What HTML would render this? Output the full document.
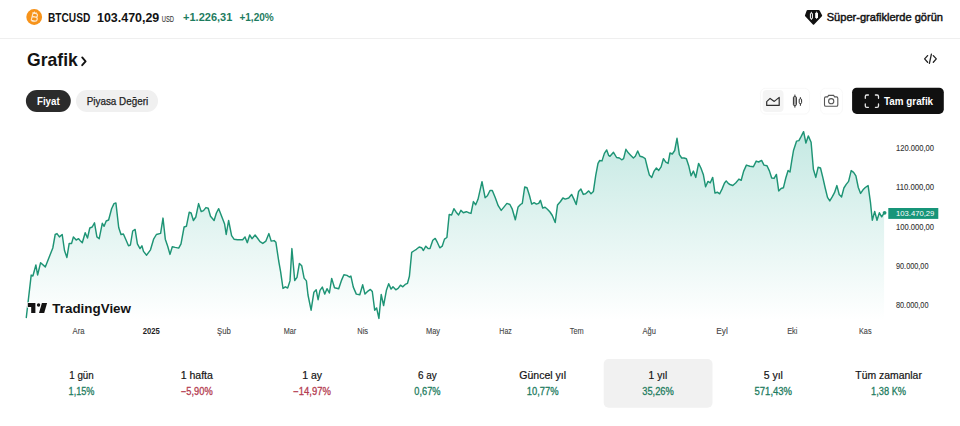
<!DOCTYPE html><html><head><meta charset="utf-8"><style>
*{margin:0;padding:0;box-sizing:border-box}
html,body{width:960px;height:426px;overflow:hidden;background:#fff}
body{position:relative;font-family:"Liberation Sans",sans-serif;}
.t{position:absolute;line-height:1;white-space:nowrap;transform-origin:0 0}
.abs{position:absolute}
</style></head><body><svg class="abs" style="left:0;top:0" width="960" height="426" viewBox="0 0 960 426">
<defs>
<linearGradient id="g" x1="0" y1="128" x2="0" y2="320" gradientUnits="userSpaceOnUse">
<stop offset="0" stop-color="#22ab94" stop-opacity="0.27"/>
<stop offset="1" stop-color="#22ab94" stop-opacity="0.0"/>
</linearGradient>
</defs>
<path d="M26.3,317.5 L31.2,275.1 L32.9,276.0 L35.9,265.0 L37.6,275.0 L40.6,262.7 L45.3,266.9 L52.8,248.0 L55.2,234.5 L57.0,233.6 L59.4,236.9 L62.2,234.5 L64.5,250.5 L66.9,257.5 L69.2,243.4 L71.6,243.4 L73.4,236.9 L76.2,240.0 L78.6,238.7 L80.0,240.4 L82.3,242.7 L85.2,232.7 L87.5,238.0 L89.8,228.0 L92.2,227.0 L94.5,222.8 L96.9,236.9 L99.2,238.7 L102.3,223.3 L104.1,226.3 L106.2,221.0 L108.6,220.0 L111.6,208.7 L114.0,203.6 L115.9,202.9 L118.7,227.5 L121.0,234.5 L123.4,234.0 L125.7,239.2 L128.5,245.8 L130.4,245.0 L132.7,231.0 L135.1,229.4 L137.4,243.9 L140.0,248.6 L141.9,245.8 L143.5,251.4 L146.6,255.2 L150.5,249.8 L153.6,239.2 L156.4,234.5 L160.6,233.4 L163.0,218.1 L165.3,239.2 L167.7,246.2 L170.0,254.4 L172.3,246.7 L175.2,247.4 L178.7,248.1 L181.0,243.9 L184.1,227.0 L186.4,226.3 L189.2,212.3 L191.1,213.0 L193.4,220.5 L195.8,217.0 L198.6,203.6 L201.2,211.6 L203.5,210.6 L205.9,207.6 L208.2,208.3 L210.5,216.2 L214.1,220.5 L216.4,213.0 L218.7,208.7 L222.3,218.1 L224.6,224.0 L226.2,234.5 L228.6,220.5 L231.6,235.7 L234.0,239.2 L237.5,239.7 L242.7,239.7 L245.0,236.9 L247.3,242.7 L249.7,235.0 L252.0,238.7 L255.1,235.0 L257.4,238.0 L260.0,241.6 L262.8,243.4 L265.9,241.1 L268.9,233.6 L271.2,241.1 L274.1,240.6 L275.9,242.3 L278.7,261.0 L280.6,271.6 L283.0,288.4 L285.3,286.8 L287.7,288.0 L290.0,280.9 L291.9,248.6 L294.7,280.5 L297.0,277.4 L299.4,263.4 L301.7,265.7 L304.1,278.1 L306.4,280.9 L308.0,295.0 L311.1,310.2 L313.9,292.2 L316.2,289.8 L318.1,299.7 L320.0,290.3 L322.3,287.1 L324.7,294.1 L327.0,288.7 L329.4,293.0 L331.7,278.4 L334.5,287.8 L338.7,288.7 L341.6,280.1 L343.9,274.7 L347.0,275.4 L349.3,277.0 L350.9,276.1 L353.3,287.1 L356.3,294.1 L359.8,294.8 L362.7,284.8 L365.0,294.1 L368.0,291.1 L370.4,289.4 L372.3,291.5 L374.7,310.2 L376.6,307.9 L378.9,318.4 L381.2,294.5 L383.6,305.5 L386.4,290.3 L388.7,283.7 L391.1,289.1 L393.0,286.8 L395.8,289.8 L398.1,288.4 L400.5,285.2 L402.8,286.8 L405.2,284.4 L407.5,283.3 L409.4,276.2 L411.7,252.3 L414.5,250.5 L416.4,249.3 L419.2,247.0 L421.6,247.7 L423.4,250.5 L425.8,246.2 L428.1,248.6 L430.0,248.5 L432.8,240.3 L435.2,238.4 L437.5,242.7 L439.8,247.8 L442.2,246.2 L444.5,239.1 L446.9,237.5 L449.2,214.5 L451.6,215.0 L453.9,208.7 L456.2,212.2 L458.6,215.0 L460.9,210.3 L463.3,212.7 L466.3,211.7 L468.7,212.7 L471.0,213.4 L473.4,201.6 L475.7,204.7 L478.0,199.3 L482.0,181.7 L485.1,197.7 L487.4,195.8 L490.0,190.5 L492.3,190.5 L495.2,197.5 L498.2,205.7 L501.2,210.4 L504.1,206.9 L506.9,203.4 L509.9,204.5 L512.3,209.2 L515.3,219.8 L518.1,206.9 L520.5,204.5 L522.3,203.4 L524.7,187.0 L527.0,187.7 L529.4,195.2 L531.7,204.1 L534.1,202.7 L536.4,204.1 L538.7,203.4 L540.4,200.3 L542.7,208.0 L545.1,207.3 L547.4,209.2 L550.0,212.0 L552.3,215.5 L555.2,222.6 L557.5,205.0 L560.5,201.5 L562.9,198.0 L565.2,199.1 L568.7,198.0 L571.6,194.4 L573.9,199.1 L576.2,204.5 L578.6,191.4 L580.9,189.1 L583.3,194.4 L585.6,193.7 L588.7,190.9 L591.0,193.7 L593.4,191.4 L595.7,175.7 L598.0,163.3 L599.7,160.5 L602.0,160.9 L604.4,153.4 L606.7,149.9 L608.6,155.3 L610.0,156.3 L613.5,152.3 L616.6,157.5 L619.4,158.0 L621.7,159.8 L623.6,158.7 L625.9,149.3 L628.3,152.8 L630.6,155.2 L633.4,158.0 L635.3,156.3 L637.7,151.0 L640.0,156.3 L642.8,157.0 L645.2,158.7 L647.5,168.0 L649.4,175.1 L651.7,177.4 L654.1,171.1 L656.4,168.0 L658.7,170.4 L661.1,166.9 L663.4,158.7 L665.8,162.2 L668.1,163.4 L670.0,153.0 L672.3,154.0 L674.7,150.5 L677.0,138.3 L679.4,154.7 L681.7,158.0 L684.1,158.0 L686.4,158.7 L688.7,165.7 L691.1,175.8 L693.4,171.1 L695.8,177.4 L698.6,163.4 L700.9,168.0 L703.3,174.4 L705.6,186.8 L708.0,181.4 L710.3,182.8 L712.7,177.4 L715.0,193.1 L717.3,192.2 L719.7,193.8 L722.0,189.1 L724.4,183.3 L726.2,180.9 L728.6,183.7 L730.0,184.5 L732.8,185.5 L735.9,182.7 L738.9,179.1 L741.2,180.3 L743.6,171.4 L746.4,165.1 L749.9,166.2 L753.4,166.7 L756.2,161.1 L758.6,162.0 L761.6,160.4 L764.0,165.1 L767.0,165.8 L769.4,170.9 L771.7,178.0 L774.1,178.4 L776.4,174.4 L778.7,190.9 L781.1,188.5 L783.4,187.8 L785.8,178.0 L788.1,170.5 L790.0,172.0 L791.9,159.8 L793.5,150.5 L796.6,141.1 L798.9,140.6 L801.2,136.4 L803.6,131.7 L805.9,143.0 L808.3,135.9 L811.1,142.3 L813.4,169.2 L815.8,177.4 L818.1,167.3 L820.5,168.0 L822.8,177.4 L825.2,188.0 L827.5,197.3 L829.8,200.9 L832.2,196.9 L834.5,192.7 L836.9,185.6 L839.2,194.5 L841.6,196.9 L843.9,188.0 L846.2,184.4 L848.6,181.4 L851.2,170.6 L853.6,172.3 L855.9,175.8 L858.3,187.5 L860.6,193.4 L863.0,189.8 L865.3,187.5 L868.1,185.6 L870.5,202.7 L872.3,220.3 L874.7,211.4 L877.0,220.3 L879.4,212.8 L881.7,216.8 L884.1,212.8 L884.1,320 L26.3,320 Z" fill="url(#g)" stroke="none"/>
<path d="M26.3,317.5 L31.2,275.1 L32.9,276.0 L35.9,265.0 L37.6,275.0 L40.6,262.7 L45.3,266.9 L52.8,248.0 L55.2,234.5 L57.0,233.6 L59.4,236.9 L62.2,234.5 L64.5,250.5 L66.9,257.5 L69.2,243.4 L71.6,243.4 L73.4,236.9 L76.2,240.0 L78.6,238.7 L80.0,240.4 L82.3,242.7 L85.2,232.7 L87.5,238.0 L89.8,228.0 L92.2,227.0 L94.5,222.8 L96.9,236.9 L99.2,238.7 L102.3,223.3 L104.1,226.3 L106.2,221.0 L108.6,220.0 L111.6,208.7 L114.0,203.6 L115.9,202.9 L118.7,227.5 L121.0,234.5 L123.4,234.0 L125.7,239.2 L128.5,245.8 L130.4,245.0 L132.7,231.0 L135.1,229.4 L137.4,243.9 L140.0,248.6 L141.9,245.8 L143.5,251.4 L146.6,255.2 L150.5,249.8 L153.6,239.2 L156.4,234.5 L160.6,233.4 L163.0,218.1 L165.3,239.2 L167.7,246.2 L170.0,254.4 L172.3,246.7 L175.2,247.4 L178.7,248.1 L181.0,243.9 L184.1,227.0 L186.4,226.3 L189.2,212.3 L191.1,213.0 L193.4,220.5 L195.8,217.0 L198.6,203.6 L201.2,211.6 L203.5,210.6 L205.9,207.6 L208.2,208.3 L210.5,216.2 L214.1,220.5 L216.4,213.0 L218.7,208.7 L222.3,218.1 L224.6,224.0 L226.2,234.5 L228.6,220.5 L231.6,235.7 L234.0,239.2 L237.5,239.7 L242.7,239.7 L245.0,236.9 L247.3,242.7 L249.7,235.0 L252.0,238.7 L255.1,235.0 L257.4,238.0 L260.0,241.6 L262.8,243.4 L265.9,241.1 L268.9,233.6 L271.2,241.1 L274.1,240.6 L275.9,242.3 L278.7,261.0 L280.6,271.6 L283.0,288.4 L285.3,286.8 L287.7,288.0 L290.0,280.9 L291.9,248.6 L294.7,280.5 L297.0,277.4 L299.4,263.4 L301.7,265.7 L304.1,278.1 L306.4,280.9 L308.0,295.0 L311.1,310.2 L313.9,292.2 L316.2,289.8 L318.1,299.7 L320.0,290.3 L322.3,287.1 L324.7,294.1 L327.0,288.7 L329.4,293.0 L331.7,278.4 L334.5,287.8 L338.7,288.7 L341.6,280.1 L343.9,274.7 L347.0,275.4 L349.3,277.0 L350.9,276.1 L353.3,287.1 L356.3,294.1 L359.8,294.8 L362.7,284.8 L365.0,294.1 L368.0,291.1 L370.4,289.4 L372.3,291.5 L374.7,310.2 L376.6,307.9 L378.9,318.4 L381.2,294.5 L383.6,305.5 L386.4,290.3 L388.7,283.7 L391.1,289.1 L393.0,286.8 L395.8,289.8 L398.1,288.4 L400.5,285.2 L402.8,286.8 L405.2,284.4 L407.5,283.3 L409.4,276.2 L411.7,252.3 L414.5,250.5 L416.4,249.3 L419.2,247.0 L421.6,247.7 L423.4,250.5 L425.8,246.2 L428.1,248.6 L430.0,248.5 L432.8,240.3 L435.2,238.4 L437.5,242.7 L439.8,247.8 L442.2,246.2 L444.5,239.1 L446.9,237.5 L449.2,214.5 L451.6,215.0 L453.9,208.7 L456.2,212.2 L458.6,215.0 L460.9,210.3 L463.3,212.7 L466.3,211.7 L468.7,212.7 L471.0,213.4 L473.4,201.6 L475.7,204.7 L478.0,199.3 L482.0,181.7 L485.1,197.7 L487.4,195.8 L490.0,190.5 L492.3,190.5 L495.2,197.5 L498.2,205.7 L501.2,210.4 L504.1,206.9 L506.9,203.4 L509.9,204.5 L512.3,209.2 L515.3,219.8 L518.1,206.9 L520.5,204.5 L522.3,203.4 L524.7,187.0 L527.0,187.7 L529.4,195.2 L531.7,204.1 L534.1,202.7 L536.4,204.1 L538.7,203.4 L540.4,200.3 L542.7,208.0 L545.1,207.3 L547.4,209.2 L550.0,212.0 L552.3,215.5 L555.2,222.6 L557.5,205.0 L560.5,201.5 L562.9,198.0 L565.2,199.1 L568.7,198.0 L571.6,194.4 L573.9,199.1 L576.2,204.5 L578.6,191.4 L580.9,189.1 L583.3,194.4 L585.6,193.7 L588.7,190.9 L591.0,193.7 L593.4,191.4 L595.7,175.7 L598.0,163.3 L599.7,160.5 L602.0,160.9 L604.4,153.4 L606.7,149.9 L608.6,155.3 L610.0,156.3 L613.5,152.3 L616.6,157.5 L619.4,158.0 L621.7,159.8 L623.6,158.7 L625.9,149.3 L628.3,152.8 L630.6,155.2 L633.4,158.0 L635.3,156.3 L637.7,151.0 L640.0,156.3 L642.8,157.0 L645.2,158.7 L647.5,168.0 L649.4,175.1 L651.7,177.4 L654.1,171.1 L656.4,168.0 L658.7,170.4 L661.1,166.9 L663.4,158.7 L665.8,162.2 L668.1,163.4 L670.0,153.0 L672.3,154.0 L674.7,150.5 L677.0,138.3 L679.4,154.7 L681.7,158.0 L684.1,158.0 L686.4,158.7 L688.7,165.7 L691.1,175.8 L693.4,171.1 L695.8,177.4 L698.6,163.4 L700.9,168.0 L703.3,174.4 L705.6,186.8 L708.0,181.4 L710.3,182.8 L712.7,177.4 L715.0,193.1 L717.3,192.2 L719.7,193.8 L722.0,189.1 L724.4,183.3 L726.2,180.9 L728.6,183.7 L730.0,184.5 L732.8,185.5 L735.9,182.7 L738.9,179.1 L741.2,180.3 L743.6,171.4 L746.4,165.1 L749.9,166.2 L753.4,166.7 L756.2,161.1 L758.6,162.0 L761.6,160.4 L764.0,165.1 L767.0,165.8 L769.4,170.9 L771.7,178.0 L774.1,178.4 L776.4,174.4 L778.7,190.9 L781.1,188.5 L783.4,187.8 L785.8,178.0 L788.1,170.5 L790.0,172.0 L791.9,159.8 L793.5,150.5 L796.6,141.1 L798.9,140.6 L801.2,136.4 L803.6,131.7 L805.9,143.0 L808.3,135.9 L811.1,142.3 L813.4,169.2 L815.8,177.4 L818.1,167.3 L820.5,168.0 L822.8,177.4 L825.2,188.0 L827.5,197.3 L829.8,200.9 L832.2,196.9 L834.5,192.7 L836.9,185.6 L839.2,194.5 L841.6,196.9 L843.9,188.0 L846.2,184.4 L848.6,181.4 L851.2,170.6 L853.6,172.3 L855.9,175.8 L858.3,187.5 L860.6,193.4 L863.0,189.8 L865.3,187.5 L868.1,185.6 L870.5,202.7 L872.3,220.3 L874.7,211.4 L877.0,220.3 L879.4,212.8 L881.7,216.8 L884.1,212.8" fill="none" stroke="#1e9475" stroke-width="1.45" stroke-linejoin="round" stroke-linecap="round"/>
<circle cx="884.6" cy="212.8" r="1.9" fill="#1e9475"/>
<!-- price label box -->
<rect x="888.3" y="208" width="50" height="10.9" fill="#179579"/>
<!-- header divider -->
<rect x="0" y="38" width="960" height="1" fill="#efefef"/>
<!-- bitcoin -->
<circle cx="34.2" cy="17" r="7.9" fill="#f7931a"/>
<g transform="rotate(14 34.2 17)" fill="none" stroke="#fff" stroke-opacity="0.75" stroke-width="1.2">
<path d="M31.6,13.2 H35.3 C37.6,13.2 37.6,16.8 35.3,16.8 H31.6 M31.6,16.8 H35.8 C38.3,16.8 38.3,20.8 35.8,20.8 H31.6 M32.1,13.2 V20.8"/>
<path d="M33.3,11.8 V13.2 M35,11.8 V13.2 M33.3,20.8 V22.2 M35,20.8 V22.2" stroke-width="1"/>
</g>
<!-- gem icon -->
<path d="M807.6,10.1 L818.7,10.1 Q819.3,10.1 819.6,10.6 L822.1,15.3 Q822.3,15.8 821.9,16.2 L814.1,24.4 Q813.5,25 812.9,24.4 L805.2,16.2 Q804.8,15.8 805,15.3 L806.7,10.6 Q807,10.1 807.6,10.1 Z" fill="#111"/>
<path d="M811.4,11.8 V19.9 M816.6,11.6 V19" stroke="#fff" stroke-width="0.8"/>
<rect x="810.4" y="13.2" width="2.0" height="5.5" rx="0.5" fill="#111" stroke="#fff" stroke-width="1.0"/>
<rect x="815.2" y="12.8" width="2.8" height="5.2" rx="0.5" fill="#fff"/>
<!-- title chevron -->
<path d="M82.2,57.4 L85.6,61.3 L82.2,65.2" fill="none" stroke="#131313" stroke-width="1.9" stroke-linecap="round" stroke-linejoin="round"/>
<!-- embed icon -->
<path d="M927.6,55.6 L924.6,58.9 L927.6,62.2 M933.3,55.6 L936.3,58.9 L933.3,62.2 M931.4,54.2 L929.4,63.4" fill="none" stroke="#222" stroke-width="1.3" stroke-linecap="round" stroke-linejoin="round"/>
<!-- pills -->
<rect x="25.9" y="90" width="44.9" height="21.9" rx="10.95" fill="#2b2b2b"/>
<rect x="76" y="90" width="82" height="21.9" rx="10.95" fill="#f0f0f0"/>
<!-- toolbar -->
<rect x="760.5" y="88.3" width="49" height="25.7" rx="5" fill="#fff" stroke="#f8f8f8" stroke-width="1"/>
<rect x="762.7" y="90.1" width="20.8" height="22" rx="4" fill="#f4f4f4"/>
<path d="M766.7,105.4 V101.6 L770.1,98.4 L774.3,101.4 L779.2,97.4 V105.4 Z" fill="none" stroke="#2e2e2e" stroke-width="1.2" stroke-linejoin="round"/>
<path d="M794.9,94.6 V107.6 M800.4,97.2 V105.8" stroke="#2e2e2e" stroke-width="1"/>
<rect x="793.4" y="96.6" width="3" height="9" rx="1" fill="#aaa" stroke="#2e2e2e" stroke-width="1"/>
<rect x="799.2" y="98.8" width="2.4" height="4.8" rx="1" fill="#fff" stroke="#2e2e2e" stroke-width="1"/>
<rect x="820.5" y="88.3" width="22" height="25.7" rx="5" fill="#fff" stroke="#f9f9f9" stroke-width="1"/>
<path d="M824.5,98.2 Q824.5,96.9 825.8,96.9 H827.6 L828.6,95.4 H833.6 L834.6,96.9 H836.5 Q837.8,96.9 837.8,98.2 V105 Q837.8,106.3 836.5,106.3 H825.8 Q824.5,106.3 824.5,105 Z" fill="none" stroke="#555" stroke-width="1.1"/>
<circle cx="831.2" cy="101.2" r="2.6" fill="none" stroke="#555" stroke-width="1.1"/>
<rect x="852.1" y="87.7" width="91.7" height="26.2" rx="4.6" fill="#101010"/>
<path d="M865.3,98.3 V96.4 Q865.3,95 866.7,95 H868.4 M875.4,95 H877.1 Q878.5,95 878.5,96.4 V98.3 M878.5,104 V105.9 Q878.5,107.3 877.1,107.3 H875.4 M868.4,107.3 H866.7 Q865.3,107.3 865.3,105.9 V104" fill="none" stroke="#e8e8e8" stroke-width="1.3" stroke-linecap="round"/>
<!-- selected stat -->
<rect x="603.7" y="359" width="108.8" height="48.7" rx="5" fill="#f1f1f1"/>
<!-- tradingview logo -->
<g fill="#131313" stroke="#ffffff" stroke-width="1.6" paint-order="stroke" stroke-linejoin="round">
<path d="M27.8,303.1 H35.4 V312.9 H31.2 V306.9 H27.8 Z"/>
<circle cx="38.6" cy="305.0" r="1.8"/>
<path d="M41.9,303.1 H47.1 L44.2,312.9 H39.0 Z"/>
</g>
<g font-family="Liberation Sans, sans-serif">
<text x="48.00" y="22" font-size="12.80" font-weight="700" fill="#131313" text-anchor="start" textLength="42.30" lengthAdjust="spacingAndGlyphs">BTCUSD</text>
<text x="97.00" y="22" font-size="12.80" font-weight="700" fill="#131313" text-anchor="start" textLength="62.30" lengthAdjust="spacingAndGlyphs">103.470,29</text>
<text x="161.85" y="22" font-size="8.70" font-weight="400" fill="#3d3d3d" text-anchor="start" textLength="12.20" lengthAdjust="spacingAndGlyphs" stroke="#3d3d3d" stroke-width="0.15" paint-order="stroke">USD</text>
<text x="183.10" y="21" font-size="10.20" font-weight="700" fill="#1d7c60" text-anchor="start" textLength="49.20" lengthAdjust="spacingAndGlyphs">+1.226,31</text>
<text x="239.40" y="21" font-size="10.20" font-weight="700" fill="#1d7c60" text-anchor="start" textLength="34.40" lengthAdjust="spacingAndGlyphs">+1,20%</text>
<text x="826.70" y="21" font-size="11.00" font-weight="400" fill="#131313" text-anchor="start" textLength="116.30" lengthAdjust="spacingAndGlyphs" stroke="#131313" stroke-width="0.45" paint-order="stroke">Süper-grafiklerde görün</text>
<text x="27.10" y="66" font-size="18.60" font-weight="700" fill="#131313" text-anchor="start" textLength="50.70" lengthAdjust="spacingAndGlyphs">Grafik</text>
<text x="36.95" y="105" font-size="10.60" font-weight="700" fill="#ffffff" text-anchor="start" textLength="22.75" lengthAdjust="spacingAndGlyphs">Fiyat</text>
<text x="86.70" y="105" font-size="10.50" font-weight="400" fill="#222222" text-anchor="start" textLength="61.50" lengthAdjust="spacingAndGlyphs" stroke="#222222" stroke-width="0.25" paint-order="stroke">Piyasa Değeri</text>
<text x="884.10" y="105" font-size="10.75" font-weight="700" fill="#ffffff" text-anchor="start" textLength="49.00" lengthAdjust="spacingAndGlyphs">Tam grafik</text>
<text x="78.50" y="334" font-size="8.70" font-weight="400" fill="#444444" text-anchor="middle" textLength="12.00" lengthAdjust="spacingAndGlyphs" stroke="#444444" stroke-width="0.10" paint-order="stroke">Ara</text>
<text x="151.25" y="334" font-size="8.70" font-weight="700" fill="#1f1f1f" text-anchor="middle" textLength="17.10" lengthAdjust="spacingAndGlyphs">2025</text>
<text x="223.90" y="334" font-size="8.70" font-weight="400" fill="#444444" text-anchor="middle" textLength="13.75" lengthAdjust="spacingAndGlyphs" stroke="#444444" stroke-width="0.10" paint-order="stroke">Şub</text>
<text x="290.00" y="334" font-size="8.70" font-weight="400" fill="#444444" text-anchor="middle" textLength="12.50" lengthAdjust="spacingAndGlyphs" stroke="#444444" stroke-width="0.10" paint-order="stroke">Mar</text>
<text x="362.70" y="334" font-size="8.70" font-weight="400" fill="#444444" text-anchor="middle" textLength="10.90" lengthAdjust="spacingAndGlyphs" stroke="#444444" stroke-width="0.10" paint-order="stroke">Nis</text>
<text x="433.00" y="334" font-size="8.70" font-weight="400" fill="#444444" text-anchor="middle" textLength="14.10" lengthAdjust="spacingAndGlyphs" stroke="#444444" stroke-width="0.10" paint-order="stroke">May</text>
<text x="505.60" y="334" font-size="8.70" font-weight="400" fill="#444444" text-anchor="middle" textLength="12.50" lengthAdjust="spacingAndGlyphs" stroke="#444444" stroke-width="0.10" paint-order="stroke">Haz</text>
<text x="576.70" y="334" font-size="8.70" font-weight="400" fill="#444444" text-anchor="middle" textLength="14.00" lengthAdjust="spacingAndGlyphs" stroke="#444444" stroke-width="0.10" paint-order="stroke">Tem</text>
<text x="649.20" y="334" font-size="8.70" font-weight="400" fill="#444444" text-anchor="middle" textLength="13.40" lengthAdjust="spacingAndGlyphs" stroke="#444444" stroke-width="0.10" paint-order="stroke">Ağu</text>
<text x="722.00" y="334" font-size="8.70" font-weight="400" fill="#444444" text-anchor="middle" textLength="11.60" lengthAdjust="spacingAndGlyphs" stroke="#444444" stroke-width="0.10" paint-order="stroke">Eyl</text>
<text x="792.30" y="334" font-size="8.70" font-weight="400" fill="#444444" text-anchor="middle" textLength="10.30" lengthAdjust="spacingAndGlyphs" stroke="#444444" stroke-width="0.10" paint-order="stroke">Eki</text>
<text x="865.30" y="334" font-size="8.70" font-weight="400" fill="#444444" text-anchor="middle" textLength="12.60" lengthAdjust="spacingAndGlyphs" stroke="#444444" stroke-width="0.10" paint-order="stroke">Kas</text>
<text x="896.00" y="151" font-size="8.40" font-weight="400" fill="#333333" text-anchor="start" textLength="38.00" lengthAdjust="spacingAndGlyphs" stroke="#333333" stroke-width="0.10" paint-order="stroke">120.000,00</text>
<text x="896.00" y="190" font-size="8.40" font-weight="400" fill="#333333" text-anchor="start" textLength="38.00" lengthAdjust="spacingAndGlyphs" stroke="#333333" stroke-width="0.10" paint-order="stroke">110.000,00</text>
<text x="896.00" y="230" font-size="8.40" font-weight="400" fill="#333333" text-anchor="start" textLength="38.00" lengthAdjust="spacingAndGlyphs" stroke="#333333" stroke-width="0.10" paint-order="stroke">100.000,00</text>
<text x="896.00" y="269" font-size="8.40" font-weight="400" fill="#333333" text-anchor="start" textLength="32.50" lengthAdjust="spacingAndGlyphs" stroke="#333333" stroke-width="0.10" paint-order="stroke">90.000,00</text>
<text x="896.00" y="308" font-size="8.40" font-weight="400" fill="#333333" text-anchor="start" textLength="32.50" lengthAdjust="spacingAndGlyphs" stroke="#333333" stroke-width="0.10" paint-order="stroke">80.000,00</text>
<text x="896.00" y="216" font-size="7.40" font-weight="400" fill="#ffffff" text-anchor="start" textLength="38.40" lengthAdjust="spacingAndGlyphs">103.470,29</text>
<text x="81.50" y="379" font-size="10.00" font-weight="400" fill="#131313" text-anchor="middle" textLength="24.50" lengthAdjust="spacingAndGlyphs" stroke="#131313" stroke-width="0.18" paint-order="stroke">1 gün</text>
<text x="81.50" y="395" font-size="10.00" font-weight="400" fill="#1d7c60" text-anchor="middle" textLength="25.80" lengthAdjust="spacingAndGlyphs" stroke="#1d7c60" stroke-width="0.28" paint-order="stroke">1,15%</text>
<text x="196.80" y="379" font-size="10.00" font-weight="400" fill="#131313" text-anchor="middle" textLength="32.30" lengthAdjust="spacingAndGlyphs" stroke="#131313" stroke-width="0.18" paint-order="stroke">1 hafta</text>
<text x="196.80" y="395" font-size="10.00" font-weight="400" fill="#b43c50" text-anchor="middle" textLength="31.70" lengthAdjust="spacingAndGlyphs" stroke="#b43c50" stroke-width="0.28" paint-order="stroke">−5,90%</text>
<text x="312.10" y="379" font-size="10.00" font-weight="400" fill="#131313" text-anchor="middle" textLength="19.85" lengthAdjust="spacingAndGlyphs" stroke="#131313" stroke-width="0.18" paint-order="stroke">1 ay</text>
<text x="312.10" y="395" font-size="10.00" font-weight="400" fill="#b43c50" text-anchor="middle" textLength="37.50" lengthAdjust="spacingAndGlyphs" stroke="#b43c50" stroke-width="0.28" paint-order="stroke">−14,97%</text>
<text x="427.40" y="379" font-size="10.00" font-weight="400" fill="#131313" text-anchor="middle" textLength="18.80" lengthAdjust="spacingAndGlyphs" stroke="#131313" stroke-width="0.18" paint-order="stroke">6 ay</text>
<text x="427.40" y="395" font-size="10.00" font-weight="400" fill="#1d7c60" text-anchor="middle" textLength="26.20" lengthAdjust="spacingAndGlyphs" stroke="#1d7c60" stroke-width="0.28" paint-order="stroke">0,67%</text>
<text x="542.70" y="379" font-size="10.00" font-weight="400" fill="#131313" text-anchor="middle" textLength="46.85" lengthAdjust="spacingAndGlyphs" stroke="#131313" stroke-width="0.18" paint-order="stroke">Güncel yıl</text>
<text x="542.70" y="395" font-size="10.00" font-weight="400" fill="#1d7c60" text-anchor="middle" textLength="31.85" lengthAdjust="spacingAndGlyphs" stroke="#1d7c60" stroke-width="0.28" paint-order="stroke">10,77%</text>
<text x="658.00" y="379" font-size="10.00" font-weight="400" fill="#131313" text-anchor="middle" textLength="18.80" lengthAdjust="spacingAndGlyphs" stroke="#131313" stroke-width="0.18" paint-order="stroke">1 yıl</text>
<text x="658.00" y="395" font-size="10.00" font-weight="400" fill="#1d7c60" text-anchor="middle" textLength="31.55" lengthAdjust="spacingAndGlyphs" stroke="#1d7c60" stroke-width="0.28" paint-order="stroke">35,26%</text>
<text x="773.30" y="379" font-size="10.00" font-weight="400" fill="#131313" text-anchor="middle" textLength="19.25" lengthAdjust="spacingAndGlyphs" stroke="#131313" stroke-width="0.18" paint-order="stroke">5 yıl</text>
<text x="773.30" y="395" font-size="10.00" font-weight="400" fill="#1d7c60" text-anchor="middle" textLength="37.50" lengthAdjust="spacingAndGlyphs" stroke="#1d7c60" stroke-width="0.28" paint-order="stroke">571,43%</text>
<text x="888.60" y="379" font-size="10.00" font-weight="400" fill="#131313" text-anchor="middle" textLength="66.50" lengthAdjust="spacingAndGlyphs" stroke="#131313" stroke-width="0.18" paint-order="stroke">Tüm zamanlar</text>
<text x="888.60" y="395" font-size="10.00" font-weight="400" fill="#1d7c60" text-anchor="middle" textLength="35.00" lengthAdjust="spacingAndGlyphs" stroke="#1d7c60" stroke-width="0.28" paint-order="stroke">1,38 K%</text>
<text x="52.3" y="313" font-size="13.6" font-weight="700" fill="#131313" textLength="78.7" lengthAdjust="spacingAndGlyphs">TradingView</text>
</g>
</svg></body></html>
